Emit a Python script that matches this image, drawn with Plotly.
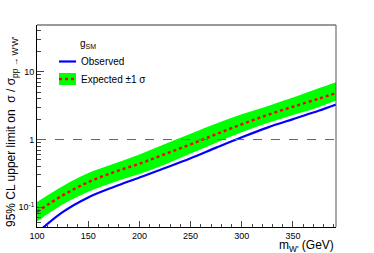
import plotly.graph_objects as go

mass = [100, 125, 150, 175, 200, 225, 250, 275, 300, 325, 350, 375, 392]
observed = [0.042, 0.085, 0.14, 0.20, 0.275, 0.38, 0.53, 0.76, 1.08, 1.5, 2.0, 2.65, 3.27]
expected = [0.086, 0.15, 0.235, 0.33, 0.44, 0.61, 0.85, 1.2, 1.68, 2.3, 3.05, 4.0, 4.85]
band_up = [0.12, 0.205, 0.32, 0.44, 0.6, 0.86, 1.22, 1.72, 2.35, 3.1, 4.15, 5.7, 7.0]
band_down = [0.062, 0.11, 0.17, 0.235, 0.31, 0.43, 0.62, 0.9, 1.28, 1.75, 2.3, 3.0, 3.75]

x_ticks = [100, 150, 200, 250, 300, 350]
y_ticks = [0.1, 1, 10]
y_ticktext = ["10<sup>-1</sup>", "1", "10"]

FONT = "Liberation Sans, Arial, sans-serif"

fig = go.Figure()
fig.add_trace(go.Scatter(x=mass, y=band_down, mode="lines",
                         line=dict(width=0, shape="spline", color="#00ff00"),
                         hoverinfo="skip", showlegend=False))
fig.add_trace(go.Scatter(x=mass, y=band_up, mode="lines", fill="tonexty",
                         fillcolor="#00ff00", line=dict(width=0, shape="spline", color="#00ff00"),
                         hoverinfo="skip", showlegend=False))
fig.add_trace(go.Scatter(x=mass, y=expected, mode="lines",
                         line=dict(color="#ff0000", width=2.5, dash="dot", shape="spline"),
                         showlegend=False))
fig.add_trace(go.Scatter(x=mass, y=observed, mode="lines",
                         line=dict(color="#0000ff", width=2.2, shape="spline"), showlegend=False))

minor_y = []
for dec in [0.01, 0.1, 1, 10]:
    for m in range(2, 10):
        v = dec * m
        if 0.05 <= v <= 50:
            minor_y.append(v)

W, H = 374, 253
L, R, T, B = 37, 336, 25, 227
pw, ph = R - L, B - T

def px(xp):
    return (xp - L) / pw

def py(yp):
    return (B - yp) / ph

fig.update_layout(
    width=W, height=H,
    margin=dict(l=L, r=W - R, t=T, b=H - B),
    paper_bgcolor="white", plot_bgcolor="white",
    font=dict(family=FONT, size=9, color="black"),
    xaxis=dict(range=[100, 392], showgrid=False, zeroline=False, showline=True,
               linecolor="black", linewidth=1, ticks="inside", ticklen=6,
               tickvals=x_ticks, tickfont=dict(size=9),
               minor=dict(ticks="inside", ticklen=3, dtick=10, tick0=100, showgrid=False)),
    yaxis=dict(type="log", range=[-1.29, 1.689], showgrid=False, zeroline=False,
               showline=True, linecolor="black", linewidth=1, ticks="inside", ticklen=7,
               tickvals=y_ticks, ticktext=y_ticktext, tickfont=dict(size=9),
               minor=dict(ticks="inside", ticklen=4, tickvals=minor_y, showgrid=False)),
    showlegend=False,
)

shapes = [
    dict(type="line", xref="paper", yref="y", x0=0, x1=1, y0=1, y1=1,
         line=dict(color="#666666", width=1, dash="dash")),
    dict(type="line", xref="paper", yref="paper", x0=0, x1=1, y0=1, y1=1,
         line=dict(color="#999999", width=2)),
    dict(type="line", xref="paper", yref="paper", x0=1, x1=1, y0=0, y1=1,
         line=dict(color="#555555", width=1)),
    dict(type="line", xref="paper", yref="paper", x0=px(59), x1=px(76), y0=py(61.5), y1=py(61.5),
         line=dict(color="#0000ff", width=2.2)),
    dict(type="rect", xref="paper", yref="paper", x0=px(59), x1=px(76), y0=py(85), y1=py(73),
         fillcolor="#00ff00", line=dict(width=0)),
    dict(type="line", xref="paper", yref="paper", x0=px(59), x1=px(76), y0=py(79), y1=py(79),
         line=dict(color="#ff0000", width=2.5, dash="dot")),
]
fig.update_layout(shapes=shapes)

annotations = [
    dict(text="g<sub>SM</sub>", xref="paper", yref="paper", x=px(78), y=py(44),
         xanchor="left", yanchor="middle", showarrow=False, font=dict(size=10)),
    dict(text="Observed", xref="paper", yref="paper", x=px(78.5), y=py(61.5),
         xanchor="left", yanchor="middle", showarrow=False, font=dict(size=10)),
    dict(text="Expected ±1 σ", xref="paper", yref="paper", x=px(78.5), y=py(79),
         xanchor="left", yanchor="middle", showarrow=False, font=dict(size=10)),
    dict(text="95% CL upper limit on  σ / σ<sub>pp → W'W'</sub>", xref="paper", yref="paper",
         x=px(12), y=py(132), textangle=-90, xanchor="center", yanchor="middle",
         showarrow=False, font=dict(size=12)),
    dict(text="m<sub>W'</sub> (GeV)", xref="paper", yref="paper", x=1.0, y=py(245.5),
         xanchor="right", yanchor="middle", showarrow=False, font=dict(size=12)),
]
fig.update_layout(annotations=annotations)

fig.write_html("out.html", config={"displayModeBar": False},
               post_script="document.body.style.margin='0';document.body.style.padding='0';")
